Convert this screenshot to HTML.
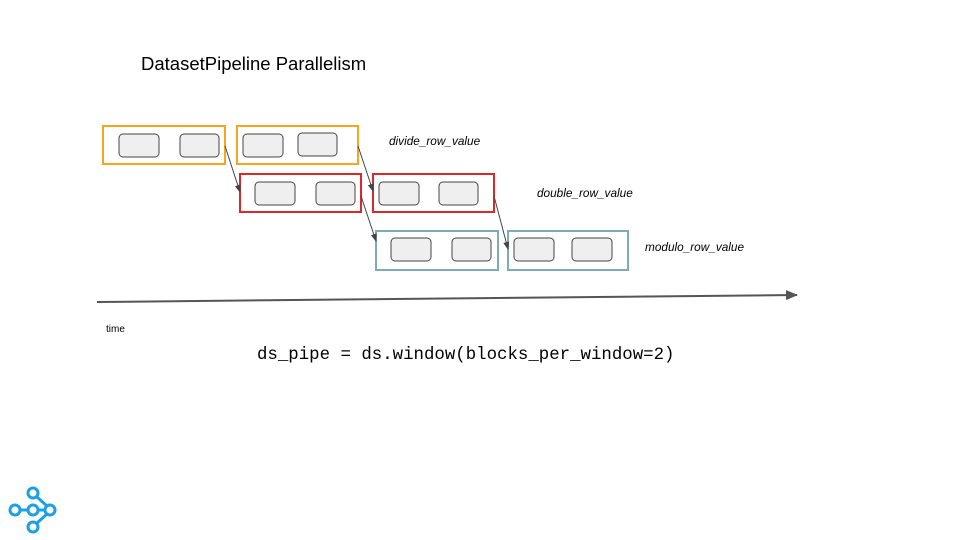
<!DOCTYPE html>
<html><head><style>body{margin:0;background:#fff}</style></head><body>
<svg width="960" height="540" xmlns="http://www.w3.org/2000/svg" style="display:block">
<defs><marker id="a" markerWidth="8" markerHeight="8" refX="7" refY="4" orient="auto" markerUnits="userSpaceOnUse"><path d="M0,1 L8,4 L0,7z" fill="#444"/></marker>
<marker id="b" markerWidth="12" markerHeight="10" refX="11" refY="5" orient="auto" markerUnits="userSpaceOnUse"><path d="M0,0 L12,5 L0,10z" fill="#555"/></marker></defs>
<text x="141" y="70" font-family="Liberation Sans, sans-serif" font-size="18.5" fill="#000">DatasetPipeline Parallelism</text>
<g fill="none" stroke-width="2">
<rect x="103" y="126" width="122" height="38" stroke="#f4a621"/>
<rect x="237" y="126" width="121" height="38" stroke="#f4a621"/>
<rect x="240" y="174" width="121" height="38" stroke="#d82a2a"/>
<rect x="373" y="174" width="121" height="38" stroke="#d82a2a"/>
<rect x="376" y="231" width="122" height="39" stroke="#7fabb4"/>
<rect x="508" y="231" width="120" height="39" stroke="#7fabb4"/>
</g>
<g fill="#efefef" stroke="#444" stroke-width="1">
<rect x="119" y="134" width="40" height="23" rx="4"/><rect x="180" y="134" width="39" height="23" rx="4"/>
<rect x="243" y="134" width="40" height="23" rx="4"/><rect x="298" y="133" width="39" height="23" rx="4"/>
<rect x="255" y="182" width="40" height="23" rx="4"/><rect x="316" y="182" width="39" height="23" rx="4"/>
<rect x="379" y="182" width="40" height="23" rx="4"/><rect x="439" y="182" width="39" height="23" rx="4"/>
<rect x="391" y="238" width="40" height="23" rx="4"/><rect x="452" y="238" width="39" height="23" rx="4"/>
<rect x="514" y="238" width="40" height="23" rx="4"/><rect x="572" y="238" width="40" height="23" rx="4"/>
</g>
<g stroke="#444" stroke-width="1" marker-end="url(#a)">
<line x1="225" y1="146" x2="240" y2="192"/><line x1="358" y1="146" x2="373" y2="191"/>
<line x1="361" y1="196" x2="376" y2="241"/><line x1="494" y1="196" x2="508" y2="249"/>
</g>
<g font-family="Liberation Sans, sans-serif" font-size="11.8" font-style="italic" fill="#000">
<text x="389" y="145">divide_row_value</text>
<text x="537" y="197">double_row_value</text>
<text x="645" y="251">modulo_row_value</text>
</g>
<line x1="97" y1="302" x2="797" y2="295" stroke="#555" stroke-width="2" marker-end="url(#b)"/>
<text x="106" y="332" font-family="Liberation Sans, sans-serif" font-size="10" fill="#000">time</text>
<text x="257" y="359" font-family="Liberation Mono, monospace" font-size="17.4" fill="#000">ds_pipe = ds.window(blocks_per_window=2)</text>
<g stroke="#1ba1e2" stroke-width="3" fill="none">
<line x1="20" y1="510" x2="28" y2="510"/><line x1="38" y1="510" x2="45" y2="510"/>
<line x1="37" y1="497" x2="47" y2="506"/><line x1="47" y1="514" x2="37" y2="523"/>
<circle cx="33" cy="493" r="5"/><circle cx="15" cy="510" r="5"/><circle cx="33" cy="510" r="5"/><circle cx="50" cy="510" r="5"/><circle cx="33" cy="527" r="5"/>
</g>
</svg>
</body></html>
